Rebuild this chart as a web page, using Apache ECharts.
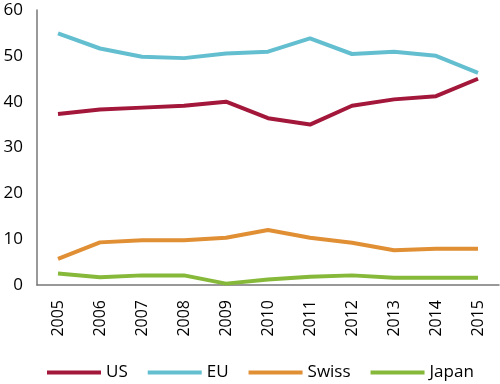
<!DOCTYPE html>
<html><head><meta charset="utf-8">
<script src="https://cdn.jsdelivr.net/npm/echarts@6/dist/echarts.min.js"></script>
<style>html,body{margin:0;padding:0;background:#fff}#c{width:500px;height:384px}</style>
</head><body><div id="c"></div>
<script>
const years = ['2005','2006','2007','2008','2009','2010','2011','2012','2013','2014','2015'];
const us = [37.3,38.3,38.7,39.1,40.0,36.4,35.0,39.1,40.5,41.2,45.0];
const eu = [54.9,51.6,49.8,49.5,50.5,50.9,53.8,50.4,50.9,50.0,46.3];
const swiss = [5.7,9.3,9.75,9.75,10.3,12.0,10.3,9.2,7.6,7.9,7.9];
const japan = [2.5,1.7,2.1,2.1,0.3,1.2,1.8,2.1,1.6,1.6,1.6];
const yTicks = [0,10,20,30,40,50,60];
const names = ['US','EU','Swiss','Japan'];
const colors = ['#A3173B','#63BFD0','#E08F35','#86B83A'];
const font = 'Open Sans';
const chart = echarts.init(document.getElementById('c'));
const mk = (n,d,c)=>({name:n,type:'line',data:d,symbol:'none',lineStyle:{width:4,color:c},itemStyle:{color:c}});
chart.setOption({
  animation:false,
  grid:{left:37,right:1,top:10,bottom:99,containLabel:false},
  legend:{top:364,left:47,padding:0,itemWidth:54,itemHeight:4,icon:'rect',itemGap:20,
    textStyle:{fontFamily:font,fontSize:17,color:'#000'},data:names},
  xAxis:{type:'category',data:years,boundaryGap:true,
    axisLine:{lineStyle:{color:'#777',width:1.5}},axisTick:{show:false},
    axisLabel:{rotate:90,fontFamily:font,fontSize:16,color:'#000',margin:15}},
  yAxis:{type:'value',min:yTicks[0],max:yTicks[yTicks.length-1],interval:10,
    axisLine:{show:true,lineStyle:{color:'#777',width:1.5}},axisTick:{show:false},splitLine:{show:false},
    axisLabel:{fontFamily:font,fontSize:17,color:'#000',margin:14}},
  series:[mk(names[0],us,colors[0]),mk(names[1],eu,colors[1]),mk(names[2],swiss,colors[2]),mk(names[3],japan,colors[3])]
});
</script></body></html>
